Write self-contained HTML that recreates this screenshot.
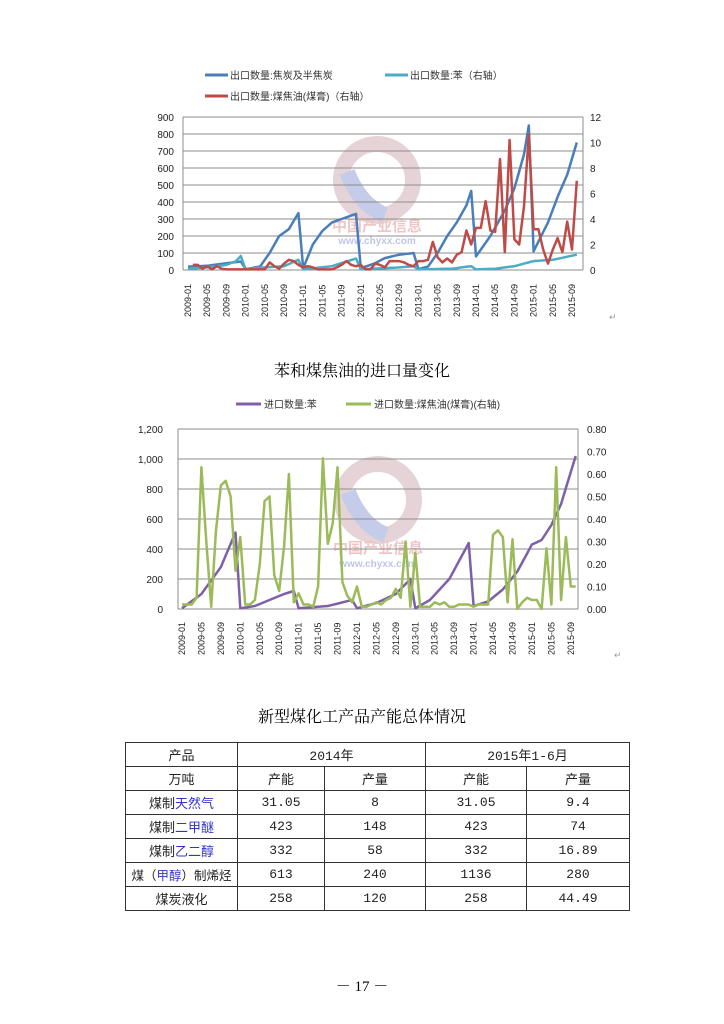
<!DOCTYPE html>
<html><head><meta charset="utf-8">
<style>
body{margin:0;background:#fff;width:724px;height:1024px;overflow:hidden;position:relative;font-family:"Liberation Sans","Noto Sans CJK SC",sans-serif}
.t{position:absolute;left:0;width:724px;text-align:center;font-family:"Liberation Serif","Noto Serif CJK SC",serif;font-size:16px;color:#000}
table{position:absolute;left:125px;top:742px;border-collapse:collapse;font-family:"Liberation Mono","Noto Sans CJK SC",monospace;font-size:13px}
td{border:1px solid #333;text-align:center;height:23px;padding:0;color:#222}
.b{color:#3333cc}
</style></head><body>
<svg width="724" height="1024" style="position:absolute;left:0;top:0" id="s" font-family="Liberation Sans, Noto Sans CJK SC, sans-serif">
<!-- watermarks -->
<g opacity="0.45">
<circle cx="377" cy="180" r="36" fill="none" stroke="#c8a0a8" stroke-width="16"/>
<path d="M347 172 Q360 205 385 215" stroke="#8090d0" stroke-width="16" fill="none"/>
<text x="377" y="231" font-size="15" fill="#e08080" text-anchor="middle" font-weight="bold">中国产业信息</text>
<text x="377" y="244" font-size="10" fill="#7080d0" text-anchor="middle" font-weight="bold">www.chyxx.com</text>
<circle cx="378" cy="500" r="36" fill="none" stroke="#c8a0a8" stroke-width="16"/>
<path d="M348 492 Q361 525 386 535" stroke="#8090d0" stroke-width="16" fill="none"/>
<text x="378" y="553" font-size="15" fill="#e08080" text-anchor="middle" font-weight="bold">中国产业信息</text>
<text x="378" y="567" font-size="10" fill="#7080d0" text-anchor="middle" font-weight="bold">www.chyxx.com</text>
</g>
<!-- chart1 legend -->
<line x1="205" y1="75" x2="228" y2="75" stroke="#4a7ebb" stroke-width="3"/>
<text x="230" y="79" font-size="10" fill="#333">出口数量:焦炭及半焦炭</text>
<line x1="385" y1="75" x2="408" y2="75" stroke="#4bacc6" stroke-width="3"/>
<text x="410" y="79" font-size="10" fill="#333">出口数量:苯（右轴）</text>
<line x1="205" y1="96" x2="228" y2="96" stroke="#be4b48" stroke-width="3"/>
<text x="230" y="100" font-size="10" fill="#333">出口数量:煤焦油(煤膏)（右轴）</text>
<g id="c1"></g><g id="c2"></g>
<!-- chart2 legend -->
<line x1="236" y1="404" x2="261" y2="404" stroke="#7f60a8" stroke-width="3"/>
<text x="264" y="408" font-size="10" fill="#333">进口数量:苯</text>
<line x1="346" y1="404" x2="371" y2="404" stroke="#9bbb59" stroke-width="3"/>
<text x="374" y="408" font-size="10" fill="#333">进口数量:煤焦油(煤膏)(右轴)</text>
<text x="609" y="320" font-size="9" fill="#999">↵</text>
<text x="614" y="658" font-size="9" fill="#999">↵</text>
</svg>
<div class="t" style="top:358px">苯和煤焦油的进口量变化</div>
<div class="t" style="top:704px">新型煤化工产品产能总体情况</div>
<table>
<tr><td style="width:111px">产品</td><td colspan="2">2014年</td><td colspan="2">2015年1-6月</td></tr>
<tr><td>万吨</td><td style="width:86px">产能</td><td style="width:100px">产量</td><td style="width:100px">产能</td><td style="width:102px">产量</td></tr>
<tr><td>煤制<span class="b">天然气</span></td><td>31.05</td><td>8</td><td>31.05</td><td>9.4</td></tr>
<tr><td>煤制<span class="b">二甲醚</span></td><td>423</td><td>148</td><td>423</td><td>74</td></tr>
<tr><td>煤制<span class="b">乙二醇</span></td><td>332</td><td>58</td><td>332</td><td>16.89</td></tr>
<tr><td style="font-size:12.5px">煤（<span class="b">甲醇</span>）制烯烃</td><td>613</td><td>240</td><td>1136</td><td>280</td></tr>
<tr><td>煤炭液化</td><td>258</td><td>120</td><td>258</td><td>44.49</td></tr>
</table>
<div class="t" style="top:975px;font-size:15px">－ 17 －</div>
<script>
function interp(k,n){var a=[];for(var m=0;m<n;m++){for(var i=0;i<k.length-1;i++){if(m>=k[i][0]&&m<=k[i+1][0]){var t=(m-k[i][0])/(k[i+1][0]-k[i][0]||1);a.push(k[i][1]+t*(k[i+1][1]-k[i][1]));break;}}}return a;}
function pl(vals,xf,yf,col){return '<polyline fill="none" stroke="'+col+'" stroke-width="2.5" stroke-linejoin="round" points="'+vals.map(function(v,i){return xf(i).toFixed(1)+','+yf(v).toFixed(1)}).join(' ')+'"/>';}
var h='';
// chart1
var X1=function(m){return 188+m*4.8},YL=function(v){return 270-v*0.17},YR=function(v){return 270-v*12.75};
for(var i=0;i<=9;i++){var y=270-i*17;h+='<line x1="183" x2="583" y1="'+y+'" y2="'+y+'" stroke="#8c8c8c" stroke-width="1"/>';h+='<text x="174" y="'+(y+4)+'" font-size="10" text-anchor="end" fill="#222">'+(i*100)+'</text>';}
for(i=0;i<=6;i++){var y=270-i*25.5;h+='<text x="590" y="'+(y+4)+'" font-size="10" fill="#222">'+(i*2)+'</text>';}
h+='<line x1="183" x2="183" y1="117" y2="270" stroke="#8c8c8c"/><line x1="583" x2="583" y1="117" y2="270" stroke="#8c8c8c"/>';
for(var m=0;m<=80;m+=4){var yr=2009+Math.floor(m/12),mo=m%12+1;var lb=yr+'-'+(mo<10?'0':'')+mo;var x=X1(m)+3;h+='<text transform="translate('+x+',317) rotate(-90)" font-size="9" fill="#222">'+lb+'</text>';}
var blue=interp([[0,20],[4,25],[8,40],[11,50],[12,5],[15,20],[17,100],[19,200],[21,240],[23,335],[24,10],[26,150],[28,230],[30,280],[32,300],[35,330],[36,10],[39,40],[41,70],[44,90],[47,100],[48,5],[50,20],[52,100],[54,200],[56,280],[58,380],[59,465],[60,80],[63,200],[66,350],[68,480],[70,680],[71,850],[72,110],[75,280],[77,430],[79,560],[81,750]],82);
var cyan=interp([[0,0.1],[4,0.2],[8,0.4],[10,0.7],[11,1.1],[12,0.05],[16,0.2],[20,0.3],[23,0.8],[24,0.05],[30,0.3],[35,0.9],[36,0.05],[44,0.2],[47,0.3],[48,0.05],[55,0.1],[59,0.3],[60,0.05],[64,0.1],[68,0.3],[72,0.7],[76,0.8],[81,1.2]],82);
var redv=[0.4,0.4,0.1,0.3,0.05,0.3,0.1,0.05,0.05,0.05,0.05,0.05,0.05,0.05,0.05,0.05,0.6,0.3,0.1,0.5,0.8,0.7,0.4,0.2,0.3,0.2,0.05,0.05,0.05,0.05,0.2,0.4,0.7,0.4,0.3,0.4,0.05,0.05,0.5,0.4,0.2,0.7,0.7,0.7,0.6,0.4,0.3,0.7,0.7,0.8,2.2,1,0.6,0.9,0.6,1.2,1.4,3.1,2,3.3,3.3,5.4,3.1,3,8.7,1.4,10.2,2.4,2,5,10.6,3.2,3.2,1.6,0.5,1.6,2.5,1.4,3.8,1.6,7];
var X1r=function(i){return X1(i+1)};
h+=pl(blue,X1,YL,'#4a7ebb')+pl(cyan,X1,YR,'#4bacc6')+pl(redv,X1r,YR,'#be4b48');
// chart2
var X2=function(m){return 182+m*4.86},Y2=function(v){return 609-v*0.15},Y2R=function(v){return 609-v*225};
for(i=0;i<=6;i++){var y=609-i*30;h+='<line x1="178" x2="578" y1="'+y+'" y2="'+y+'" stroke="#8c8c8c"/>';h+='<text x="163" y="'+(y+4)+'" font-size="10" text-anchor="end" fill="#222">'+(i*200).toLocaleString('en-US')+'</text>';}
for(i=0;i<=8;i++){var y=609-i*22.5;h+='<text x="587" y="'+(y+4)+'" font-size="10" fill="#222">'+(i/10).toFixed(2)+'</text>';}
h+='<line x1="178" x2="178" y1="429" y2="609" stroke="#8c8c8c"/><line x1="578" x2="578" y1="429" y2="609" stroke="#8c8c8c"/>';
for(m=0;m<=80;m+=4){var yr=2009+Math.floor(m/12),mo=m%12+1;var lb=yr+'-'+(mo<10?'0':'')+mo;var x=X2(m)+3;h+='<text transform="translate('+x+',655) rotate(-90)" font-size="9" fill="#222">'+lb+'</text>';}
var pur=interp([[0,5],[4,100],[8,280],[11,510],[12,5],[15,20],[18,60],[21,100],[23,120],[24,5],[30,20],[35,60],[36,5],[40,40],[44,100],[47,200],[48,5],[51,60],[55,200],[59,440],[60,20],[63,50],[66,130],[69,250],[72,430],[74,460],[76,560],[78,700],[81,1020]],82);
var grn=[0.02,0.02,0.02,0.05,0.63,0.3,0.01,0.35,0.55,0.57,0.5,0.17,0.32,0.02,0.02,0.04,0.2,0.48,0.5,0.15,0.08,0.28,0.6,0.03,0.07,0.02,0.02,0.01,0.1,0.67,0.29,0.38,0.63,0.12,0.06,0.03,0.1,0.01,0.01,0.02,0.03,0.02,0.04,0.05,0.09,0.05,0.3,0.01,0.25,0.01,0.01,0.01,0.03,0.02,0.03,0.01,0.01,0.02,0.02,0.02,0.01,0.02,0.02,0.02,0.33,0.35,0.32,0.03,0.31,0.0,0.03,0.05,0.04,0.04,0.0,0.27,0.02,0.63,0.04,0.32,0.1,0.1];
h+=pl(pur,X2,Y2,'#7f60a8')+pl(grn,X2,Y2R,'#9bbb59');
document.getElementById('c1').innerHTML=h;
</script>
</body></html>
